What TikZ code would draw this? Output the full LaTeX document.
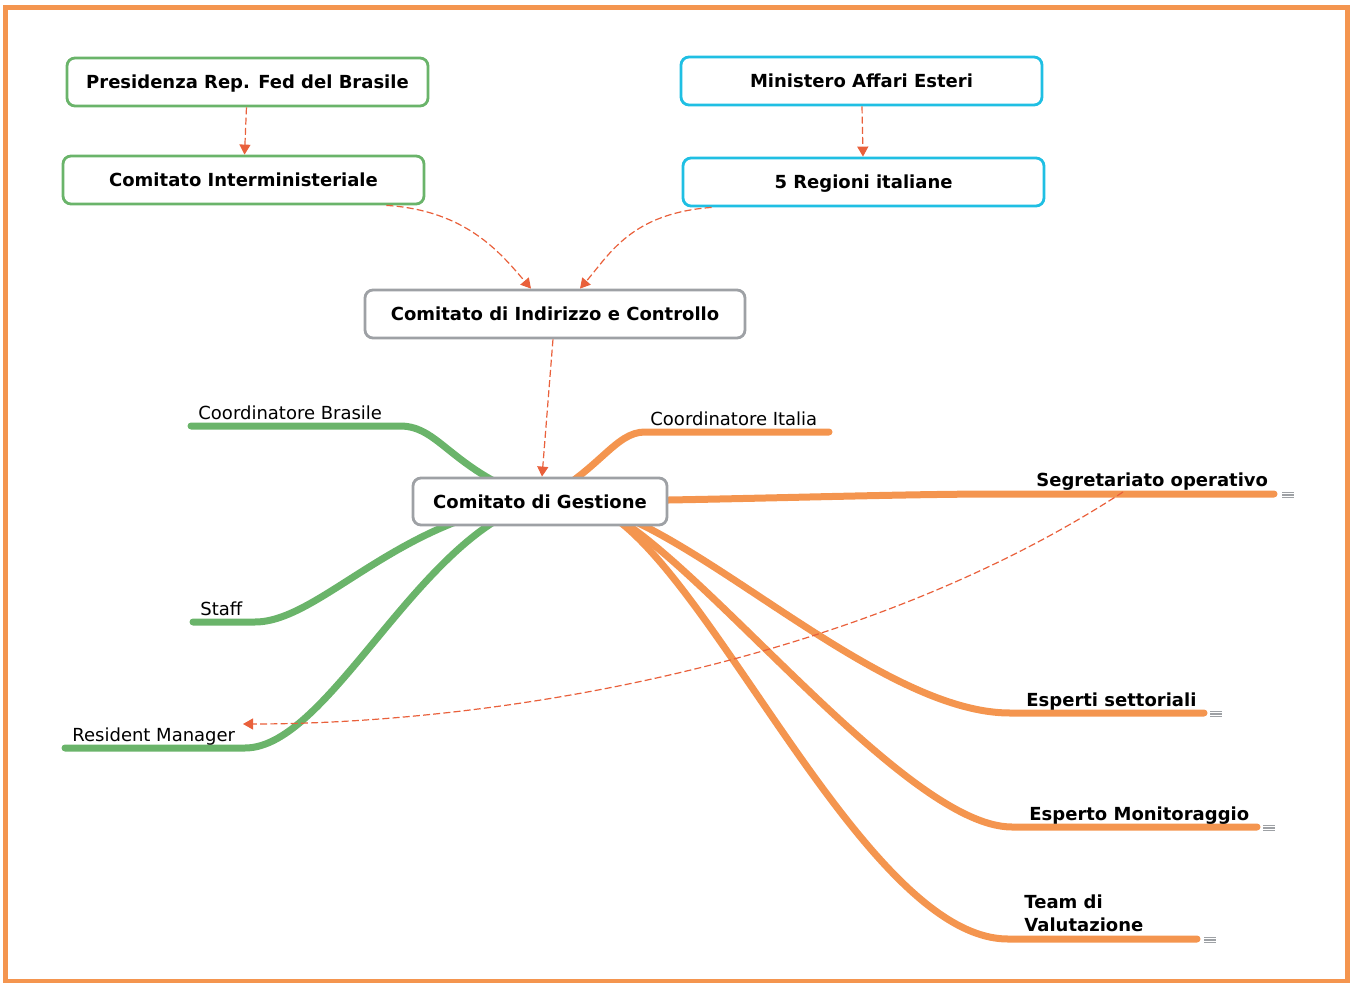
\documentclass[tikz,border=0pt]{standalone}
\usepackage{xcolor}
\usepackage{fontspec}
\setmainfont{DejaVu Sans}
\usetikzlibrary{arrows.meta, positioning, calc, backgrounds}

\definecolor{mmgreen}{HTML}{6AB46A}
\definecolor{mmorange}{HTML}{F4954F}
\definecolor{mmcyan}{HTML}{1FBFE3}
\definecolor{mmgray}{HTML}{9EA1A5}
\definecolor{mmred}{HTML}{E9603B}
\newcommand{\mmfont}{\fontsize{9}{11.35}\selectfont}

\begin{document}
\begin{tikzpicture}[
    x=0.5pt, y=-0.5pt,
    box/.style={
      rectangle, draw=#1, line width=1.4pt, rounded corners=4pt,
      fill=white, minimum width=180.5pt, minimum height=24pt,
      inner sep=0pt, text height=6.6pt, text depth=0pt,
      font=\mmfont\bfseries
    },
    box/.default=mmgray,
    lnk/.style={-{Triangle[length=5pt, width=5.5pt]}, draw=mmred,
                line width=0.6pt, dash pattern=on 3.5pt off 1.6pt},
    branch/.style={draw=#1, line width=3.5pt, line cap=round},
    branch/.default=mmorange,
    leaf/.style={anchor=base west, inner sep=0pt, font=\mmfont},
    leafb/.style={leaf, font=\mmfont\bfseries},
    noteicon/.style={
      rectangle, inner sep=0pt, minimum width=6pt, minimum height=3.8pt,
      path picture={
        \foreach \k in {0.15, 0.5, 0.85}
          \draw[mmgray, line width=0.55pt]
            ($(path picture bounding box.north west)!\k!(path picture bounding box.south west)$) --
            ($(path picture bounding box.north east)!\k!(path picture bounding box.south east)$);
      }
    },
  ]
  \useasboundingbox (0,0) rectangle (1352,983);

  %% ── Frame ─────────────────────────────────────────────────────────────
  \draw[mmorange, line width=2.5pt] (5.5,7.5) rectangle (1347.5,981.5);

  %% ── Boxes ─────────────────────────────────────────────────────────────
  \node[box=mmgreen] (pres) at (247.5,82)  {Presidenza Rep. Fed del Brasile};
  \node[box=mmgreen] (intm) at (243.5,180) {Comitato Interministeriale};
  \node[box=mmcyan]  (mae)  at (861.5,81)  {Ministero Affari Esteri};
  \node[box=mmcyan]  (reg)  at (863.5,182) {5 Regioni italiane};
  \node[box, minimum width=190pt] (cic) at (555,314) {Comitato di Indirizzo e Controllo};
  \node[box, minimum width=127pt, minimum height=23.5pt] (cdg) at (540,501.5) {Comitato di Gestione};

  %% ── Branch ends ───────────────────────────────────────────────────────
  \coordinate (hub)  at ($(cdg.center)+(50,3.5)$);
  \coordinate (cbC)  at (400,426);  \coordinate (cbE) at (191,426);
  \coordinate (stC)  at (255,622);  \coordinate (stE) at (193,622);
  \coordinate (rmC)  at (245,748);  \coordinate (rmE) at (65,748);
  \coordinate (ciC)  at (645,432);  \coordinate (ciE) at (829,432);
  \coordinate (sgC)  at (1000,494); \coordinate (sgE) at (1274,494);
  \coordinate (esC)  at (1010,713); \coordinate (esE) at (1204,713);
  \coordinate (emC)  at (1012,827); \coordinate (emE) at (1257,827);
  \coordinate (tvC)  at (1008,939); \coordinate (tvE) at (1197,939);

  %% ── Branches (behind the central box) ─────────────────────────────────
  \begin{scope}[on background layer]
    \draw[branch=mmgreen] (cdg.center) .. controls (450,470) and (440,426) .. (cbC) -- (cbE);
    \draw[branch=mmgreen] (cdg.center) .. controls (400,515) and (320,622) .. (stC) -- (stE);
    \draw[branch=mmgreen] (cdg.center) .. controls (420,530) and (330,748) .. (rmC) -- (rmE);
    \draw[branch] (cdg.center) .. controls (600,470) and (615,432) .. (ciC) -- (ciE);
    \draw[branch] (cdg.center) .. controls (700,501) and (880,494) .. (sgC) -- (sgE);
    \draw[branch] (hub) .. controls (700,530) and (880,713) .. (esC) -- (esE);
    \draw[branch] (hub) .. controls (680,530) and (900,827) .. (emC) -- (emE);
    \draw[branch] (hub) .. controls (700,540) and (860,939) .. (tvC) -- (tvE);
  \end{scope}

  %% ── Branch labels ─────────────────────────────────────────────────────
  \node[leaf]  (cb) at (198,419)  {Coordinatore Brasile};
  \node[leaf]  (st) at (200,615)  {Staff};
  \node[leaf]  (rm) at (72,741)   {Resident Manager};
  \node[leaf]  (ci) at (650,425)  {Coordinatore Italia};
  \node[leafb] (sg) at (1036,486) {Segretariato operativo};
  \node[leafb] (es) at (1026,706) {Esperti settoriali};
  \node[leafb] (em) at (1029,820) {Esperto Monitoraggio};
  \node[leafb, align=left] (tv) at (1024,931) {Team di\\Valutazione};

  %% ── Note icons ────────────────────────────────────────────────────────
  \node[noteicon] (sgN) at (1288,495) {};
  \node[noteicon] (esN) at (1216,714) {};
  \node[noteicon] (emN) at (1269,828) {};
  \node[noteicon] (tvN) at (1210,940) {};

  %% ── Relations (dashed) ────────────────────────────────────────────────
  \coordinate (sgA) at (1123,492);
  \coordinate (rmA) at (243,724);
  \draw[lnk] (pres) -- (intm);
  \draw[lnk] (mae) -- (reg);
  \draw[lnk] ([xshift=-19.5pt]intm.south east)
      .. controls +(80,5) and +(-30,-35) .. ([xshift=-12pt]cic.north);
  \draw[lnk] ([xshift=15pt]reg.south west)
      .. controls +(-80,6) and +(30,-35) .. ([xshift=12.5pt]cic.north);
  \draw[lnk] (cic) -- (cdg);
  \draw[lnk] (sgA) .. controls +(-273,178) and +(237,0) .. (rmA);

\end{tikzpicture}
\end{document}
